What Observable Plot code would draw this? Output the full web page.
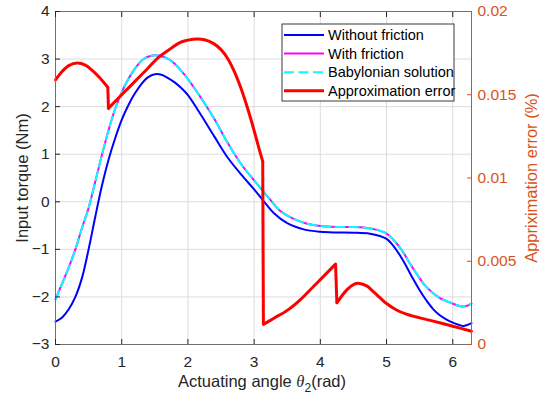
<!DOCTYPE html>
<html><head><meta charset="utf-8">
<script src="https://cdn.jsdelivr.net/npm/d3@7"></script>
<script src="https://cdn.jsdelivr.net/npm/@observablehq/plot@0.6"></script>
<style>
body{margin:0;background:#fff}
svg{font-family:"Liberation Sans",Arial,Helvetica,sans-serif}
</style>
</head><body><div id="chart"></div>
<script>
// Without friction (left axis, Nm)
const noFricX = [0, 0.1, 0.2, 0.3, 0.4, 0.5, 0.6, 0.7, 0.8, 0.9, 1.0, 1.1, 1.2, 1.3, 1.4, 1.5, 1.6, 1.7, 1.8, 1.9, 2.0, 2.2, 2.4, 2.6, 2.8, 3.0, 3.14, 3.3, 3.5, 3.75, 4.0, 4.25, 4.5, 4.75, 4.9, 5.0, 5.1, 5.2, 5.3, 5.4, 5.5, 5.6, 5.7, 5.8, 5.9, 6.0, 6.1, 6.16, 6.283];
const noFricY = [-2.52, -2.43, -2.26, -2.0, -1.6, -1.0, -0.32, 0.33, 0.88, 1.33, 1.72, 2.03, 2.28, 2.48, 2.62, 2.68, 2.67, 2.60, 2.51, 2.39, 2.24, 1.82, 1.37, 0.93, 0.58, 0.26, 0.02, -0.24, -0.45, -0.58, -0.63, -0.645, -0.65, -0.67, -0.72, -0.78, -0.92, -1.12, -1.36, -1.62, -1.86, -2.07, -2.25, -2.38, -2.47, -2.54, -2.59, -2.61, -2.55];
// With friction / Babylonian solution (left axis, Nm)
const fricX = [0, 0.1, 0.2, 0.3, 0.4, 0.5, 0.6, 0.7, 0.8, 0.9, 1.0, 1.1, 1.2, 1.33, 1.42, 1.51, 1.6, 1.71, 1.8, 1.9, 2.0, 2.2, 2.4, 2.6, 2.8, 3.0, 3.12, 3.24, 3.4, 3.6, 3.8, 4.0, 4.25, 4.5, 4.75, 5.0, 5.2, 5.4, 5.6, 5.8, 6.0, 6.1, 6.18, 6.283];
const fricY = [-2.05, -1.72, -1.38, -1.0, -0.55, -0.13, 0.42, 0.98, 1.5, 1.95, 2.3, 2.58, 2.8, 3.0, 3.06, 3.08, 3.06, 3.0, 2.9, 2.75, 2.58, 2.18, 1.74, 1.24, 0.8, 0.45, 0.25, 0.05, -0.2, -0.36, -0.46, -0.51, -0.53, -0.53, -0.56, -0.67, -0.96, -1.4, -1.79, -2.02, -2.14, -2.19, -2.20, -2.14];
// Approximation error (right axis, %)
const errX = [0, 0.1, 0.2, 0.33, 0.45, 0.55, 0.65, 0.79, 0.80, 1.0, 1.2, 1.4, 1.56, 1.75, 1.885, 2.0, 2.14, 2.25, 2.39, 2.5, 2.6, 2.7, 2.8, 2.9, 3.0, 3.1, 3.13, 3.14, 3.3, 3.5, 3.7, 3.9, 4.1, 4.23, 4.25, 4.4, 4.5, 4.59, 4.7, 4.8, 4.9, 5.0, 5.15, 5.3, 5.5, 5.66, 6.0, 6.283];
const errY = [0.0159, 0.0164, 0.01675, 0.0169, 0.01678, 0.01648, 0.0161, 0.01545, 0.01418, 0.0150, 0.0158, 0.01661, 0.01726, 0.0178, 0.01815, 0.01828, 0.01835, 0.0183, 0.01807, 0.01771, 0.01718, 0.0164, 0.0154, 0.0142, 0.01285, 0.0114, 0.0110, 0.00121, 0.00158, 0.00205, 0.0027, 0.0035, 0.0043, 0.00483, 0.0025, 0.00328, 0.0036, 0.00367, 0.00352, 0.00318, 0.00281, 0.00246, 0.00207, 0.00182, 0.0016, 0.00145, 0.0011, 0.0008];
// x positions where the error curve jumps
const errJumps = [0.80, 3.14, 4.25];

const xTicks = [0, 1, 2, 3, 4, 5, 6];
const yTicks = [-3, -2, -1, 0, 1, 2, 3, 4];
const errTicks = [0, 0.005, 0.01, 0.015, 0.02];
const seriesNames = ["Without friction", "With friction", "Babylonian solution", "Approximation error"];
const seriesColors = ["#0000ff", "#ff00ff", "#00ffff", "#ff0000"];

const yMin = -3, yMax = 4, eMax = 0.02;
const toLeft = e => yMin + e / eMax * (yMax - yMin);
const fromLeft = v => (v - yMin) / (yMax - yMin) * eMax;

const noFric = noFricX.map((x, i) => ({x, y: noFricY[i]}));
const fric = fricX.map((x, i) => ({x, y: fricY[i]}));
const err = errX.map((x, i) => ({x, y: toLeft(errY[i]), seg: errJumps.filter(j => x >= j).length}));
const jumps = errJumps.map(j => {
  const k = errX.indexOf(j);
  return {x1: errX[k - 1], y1: toLeft(errY[k - 1]), x2: errX[k], y2: toLeft(errY[k])};
});

const axisCol = "#262626", errCol = "#D95319";
const plot = Plot.plot({
  width: 539, height: 401,
  marginLeft: 55, marginRight: 68, marginTop: 11, marginBottom: 57,
  style: {fontFamily: '"Liberation Sans",Arial,sans-serif', fontSize: "15.5px", color: axisCol, background: "#fff"},
  x: {domain: [0, 2 * Math.PI]},
  y: {domain: [yMin, yMax]},
  marks: [
    Plot.gridX(xTicks, {stroke: "#dcdcdc", strokeOpacity: 1}),
    Plot.gridY(yTicks, {stroke: "#dcdcdc", strokeOpacity: 1}),
    Plot.line(noFric, {x: "x", y: "y", stroke: seriesColors[0], strokeWidth: 2, curve: "catmull-rom"}),
    Plot.line(fric, {x: "x", y: "y", stroke: seriesColors[1], strokeWidth: 2, curve: "catmull-rom"}),
    Plot.line(fric, {x: "x", y: "y", stroke: seriesColors[2], strokeWidth: 2, strokeDasharray: "9,5", curve: "catmull-rom"}),
    Plot.line(err, {x: "x", y: "y", z: "seg", stroke: seriesColors[3], strokeWidth: 3, curve: "catmull-rom"}),
    Plot.link(jumps, {x1: "x1", y1: "y1", x2: "x2", y2: "y2", stroke: seriesColors[3], strokeWidth: 3}),
    Plot.frame({stroke: "#707070"}),
    Plot.axisX(xTicks, {anchor: "bottom", tickSize: 0, tickPadding: 11, label: null, color: axisCol}),
    Plot.axisX(xTicks, {anchor: "bottom", tickSize: -5, tickFormat: () => "", label: null, color: axisCol}),
    Plot.axisX(xTicks, {anchor: "top", tickSize: -5, tickFormat: () => "", label: null, color: axisCol}),
    Plot.axisY(yTicks, {anchor: "left", tickSize: 0, tickPadding: 6, label: null, color: axisCol}),
    Plot.axisY(yTicks, {anchor: "left", tickSize: -5, tickFormat: () => "", label: null, color: axisCol}),
    Plot.ruleX([2 * Math.PI], {stroke: errCol, strokeOpacity: 0.6}),
    Plot.axisY(errTicks.map(toLeft), {anchor: "right", tickSize: -5, tickFormat: () => "", label: null, color: errCol}),
    Plot.axisY(errTicks.map(toLeft), {anchor: "right", tickSize: 0, tickPadding: 6, label: null, color: errCol,
      tickFormat: d => String(+fromLeft(d).toFixed(4))})
  ]
});
document.getElementById("chart").appendChild(plot);

const svg = d3.select(plot);
const font = '"Liberation Sans",Arial,sans-serif';
// Left axis title
svg.append("text").attr("transform", "translate(27.5,178) rotate(-90)")
  .attr("text-anchor", "middle").attr("font-size", 16.5).attr("fill", axisCol).attr("font-family", font)
  .text("Input torque (Nm)");
// Right axis title
svg.append("text").attr("transform", "translate(536.5,178) rotate(-90)")
  .attr("text-anchor", "middle").attr("font-size", 16.5).attr("fill", errCol).attr("font-family", font)
  .text("Appriximation error (%)");
// X axis title
const xt = svg.append("text").attr("x", 262).attr("y", 387).attr("text-anchor", "middle")
  .attr("font-size", 16.5).attr("fill", axisCol).attr("font-family", font);
xt.append("tspan").text("Actuating angle ");
xt.append("tspan").attr("font-style", "italic").attr("font-family", '"Liberation Serif","Times New Roman",serif').text("θ");
xt.append("tspan").attr("font-size", 12).attr("dy", 5).text("2");
xt.append("tspan").attr("dy", -5).text("(rad)");

// Legend
const lg = svg.append("g").attr("transform", "translate(282,24)");
lg.append("rect").attr("width", 172).attr("height", 77).attr("fill", "#fff").attr("stroke", "#3a3a3a").attr("stroke-width", 1);
seriesNames.forEach((name, i) => {
  const yy = 11 + i * 18.6;
  lg.append("line").attr("x1", 2).attr("x2", 42).attr("y1", yy).attr("y2", yy)
    .attr("stroke", seriesColors[i]).attr("stroke-width", i === 3 ? 3 : 2)
    .attr("stroke-dasharray", i === 2 ? "10,4.5" : null);
  lg.append("text").attr("x", 46).attr("y", yy).attr("dy", "0.35em").attr("text-anchor", "start")
    .attr("font-size", 14.5).attr("fill", "#000").attr("font-family", font).text(name);
});
</script>
</body></html>
